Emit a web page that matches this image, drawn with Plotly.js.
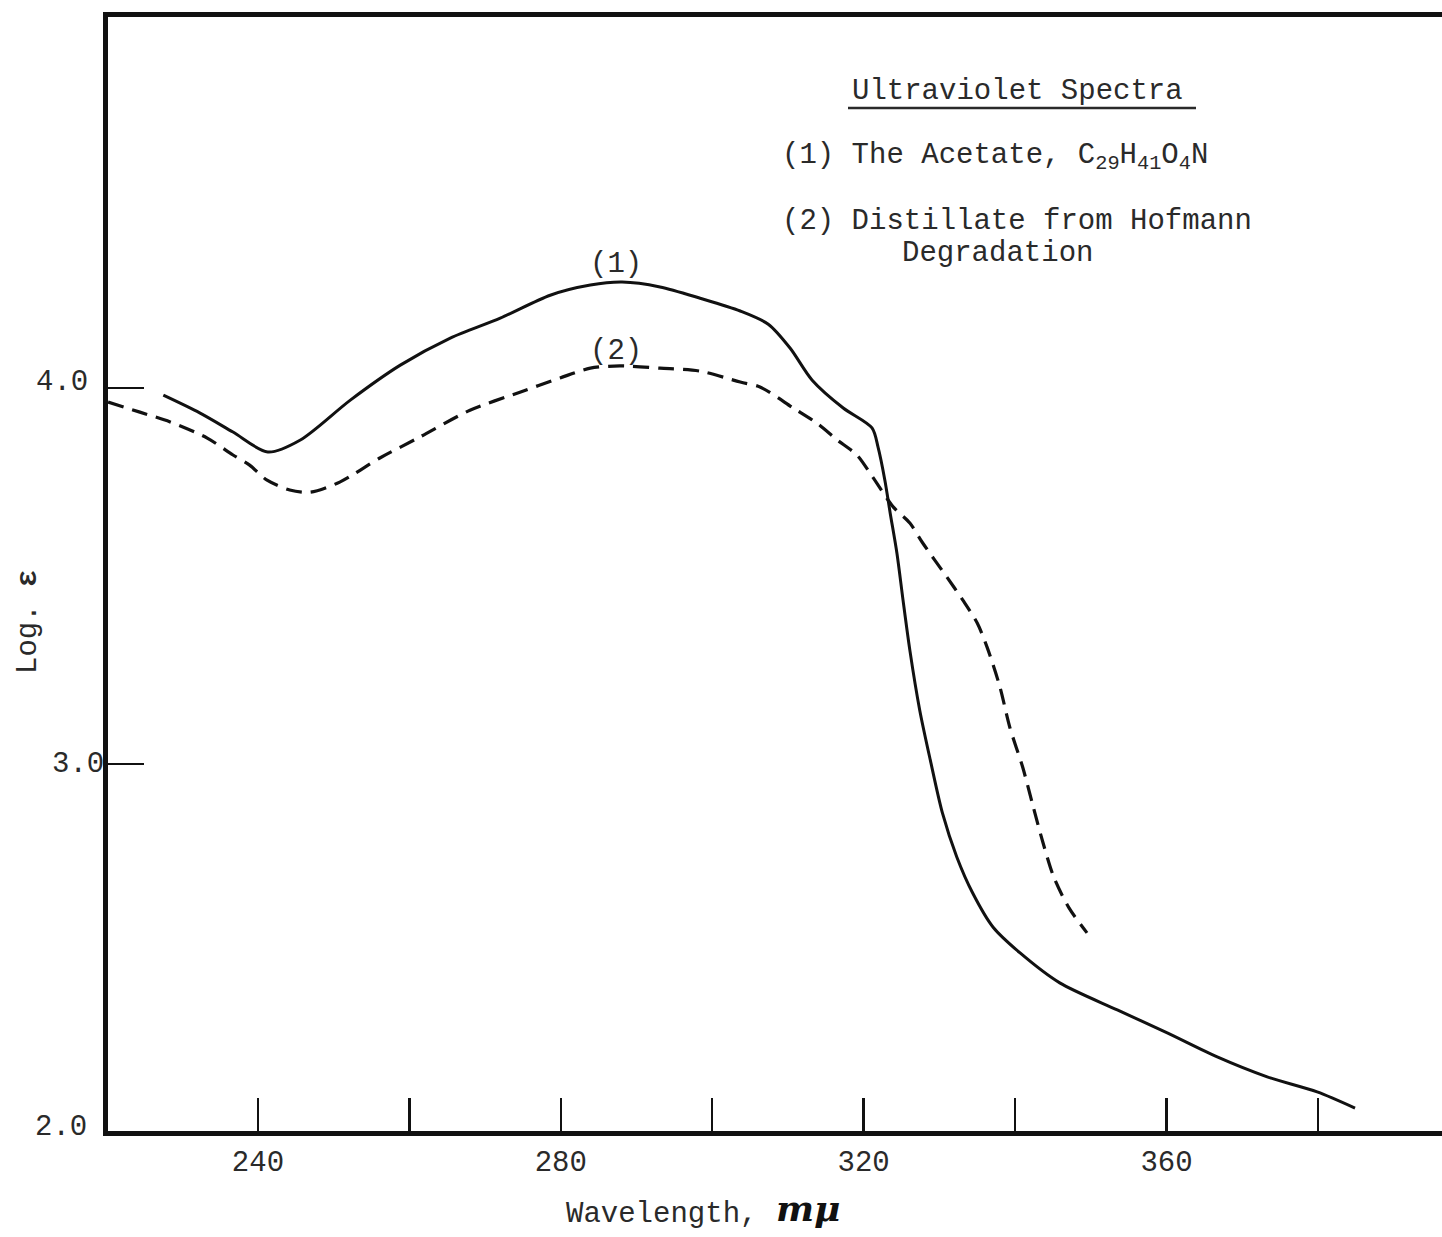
<!DOCTYPE html>
<html>
<head>
<meta charset="utf-8">
<script src="https://cdn.plot.ly/plotly-3.0.1.min.js"></script>
<style>
  html, body { margin: 0; padding: 0; background: #ffffff; overflow: hidden; }
  #chart { width: 1460px; height: 1237px; }
</style>
</head>
<body>
<div id="chart"></div>
<script>
// ---- Data ----
const wavelengthAcetate = [227.5, 232.3, 236.7, 241.3, 245.6, 252.2, 258.8, 265.4, 272.0, 278.6, 283.9, 288.1, 293.1, 298.4, 303.7, 307.4, 310.3, 313.2, 317.3, 321.1, 321.9, 322.8, 323.5, 324.4, 325.2, 326.1, 327.4, 328.8, 330.4, 332.3, 334.4, 337.1, 340.7, 345.9, 353.5, 360.1, 366.7, 373.3, 379.9, 384.9];
const logEpsAcetate = [3.981, 3.934, 3.883, 3.830, 3.862, 3.968, 4.061, 4.133, 4.186, 4.247, 4.274, 4.282, 4.269, 4.239, 4.205, 4.170, 4.106, 4.021, 3.947, 3.894, 3.843, 3.755, 3.668, 3.560, 3.436, 3.303, 3.144, 3.011, 2.870, 2.753, 2.657, 2.566, 2.497, 2.418, 2.346, 2.285, 2.221, 2.168, 2.128, 2.085];

const wavelengthDistillate = [220.2, 224.4, 228.4, 233.3, 236.7, 238.9, 241.2, 244.2, 246.9, 250.8, 256.1, 261.4, 268.0, 274.6, 279.9, 283.9, 287.8, 293.1, 298.4, 303.7, 306.3, 310.7, 313.8, 316.5, 319.1, 321.2, 323.9, 326.1, 327.8, 331.0, 333.1, 335.0, 336.3, 338.0, 339.3, 341.0, 342.4, 343.7, 345.1, 347.1, 349.5];
const logEpsDistillate = [3.963, 3.936, 3.910, 3.867, 3.822, 3.795, 3.755, 3.729, 3.723, 3.750, 3.814, 3.870, 3.941, 3.989, 4.027, 4.053, 4.059, 4.053, 4.045, 4.016, 4.003, 3.947, 3.907, 3.862, 3.822, 3.763, 3.684, 3.641, 3.588, 3.497, 3.436, 3.375, 3.311, 3.205, 3.098, 2.992, 2.886, 2.790, 2.700, 2.618, 2.551];

const xTickVals = [240, 260, 280, 300, 320, 340, 360, 380];
const xTickText = ['240', '', '280', '', '320', '', '360', ''];
const yTickMarkVals = [3.0, 4.0];
const yLabelVals = [2.0, 3.0, 4.0];
const yLabelText = ['2.0', '3.0', '4.0'];

const chartTitle = 'Ultraviolet Spectra';
const legendLine1 = '(1) The Acetate, C<sub>29</sub>H<sub>41</sub>O<sub>4</sub>N';
const legendLine2 = '(2) Distillate from Hofmann';
const legendLine3 = 'Degradation';
const curveLabel1 = '(1)';
const curveLabel2 = '(2)';
const xTitleText = 'Wavelength,';
const xTitleUnit = 'mμ';
const yTitleText = 'Log. <b>ε</b>';

// ---- Layout helpers (pixel -> paper) ----
const PL = 108, PR = 1452, PT = 17, PB = 1131;
const X_RANGE = [220.19, 397.71];
const Y_RANGE = [2.024, 4.987];
function px(X) { return (X - PL) / (PR - PL); }
function py(Y) { return (PB - Y) / (PB - PT); }
function yValToPaper(v) { return (v - Y_RANGE[0]) / (Y_RANGE[1] - Y_RANGE[0]); }

const FONT = 'Liberation Mono, Courier New, monospace';
const TXT = '#2a2a2a';

const traces = [
  {
    x: wavelengthAcetate, y: logEpsAcetate, type: 'scatter', mode: 'lines',
    line: { color: '#111', width: 3, shape: 'spline', smoothing: 0.8 },
    hoverinfo: 'skip', showlegend: false
  },
  {
    x: wavelengthDistillate, y: logEpsDistillate, type: 'scatter', mode: 'lines',
    line: { color: '#111', width: 3.2, dash: '16px,9px', shape: 'spline', smoothing: 0.8 },
    hoverinfo: 'skip', showlegend: false
  }
];

const yLabelShift = { '2.0': [-19, 13], '3.0': [-2, 0], '4.0': [-18, 6] };

const annotations = [];
yLabelVals.forEach((v, i) => {
  const t = yLabelText[i];
  annotations.push({
    x: 0, xref: 'paper', y: yValToPaper(v), yref: 'paper', text: t, showarrow: false,
    xanchor: 'right', yanchor: 'middle',
    xshift: yLabelShift[t][0], yshift: yLabelShift[t][1],
    font: { family: FONT, size: 29, color: TXT }
  });
});

function textAnn(text, X, Y, opts) {
  return Object.assign({
    x: px(X), y: py(Y), xref: 'paper', yref: 'paper', text: text,
    showarrow: false, xanchor: 'left', yanchor: 'middle',
    font: { family: FONT, size: 29, color: TXT }
  }, opts || {});
}

annotations.push(textAnn(chartTitle, 850, 92));
annotations.push(textAnn(legendLine1, 780, 157));
annotations.push(textAnn(legendLine2, 780, 222));
annotations.push(textAnn(legendLine3, 900, 253));
annotations.push(textAnn(curveLabel1, 588, 265));
annotations.push(textAnn(curveLabel2, 588, 352));
annotations.push(textAnn(xTitleText, 564, 1214));
annotations.push(textAnn('<b><i>' + xTitleUnit + '</i></b>', 774, 1208,
  { font: { family: 'DejaVu Serif, serif', size: 36, color: '#111' } }));
annotations.push({
  x: px(28), xref: 'paper', y: py(622), yref: 'paper', text: yTitleText,
  showarrow: false, textangle: -90, xanchor: 'center', yanchor: 'middle',
  font: { family: FONT, size: 29, color: TXT }
});

const layout = {
  width: 1460, height: 1237,
  margin: { l: PL, r: 1460 - PR, t: PT, b: 1237 - PB },
  paper_bgcolor: '#ffffff', plot_bgcolor: '#ffffff',
  showlegend: false,
  xaxis: {
    range: X_RANGE,
    showline: true, linewidth: 5, linecolor: '#111', mirror: true,
    ticks: 'inside', ticklen: 33, tickwidth: 2.5, tickcolor: '#111',
    tickmode: 'array', tickvals: xTickVals, ticktext: xTickText,
    tickfont: { family: FONT, size: 29, color: TXT },
    showgrid: false, zeroline: false, fixedrange: true
  },
  yaxis: {
    range: Y_RANGE,
    showline: true, linewidth: 5, linecolor: '#111', mirror: true,
    ticks: 'inside', ticklen: 36, tickwidth: 2.5, tickcolor: '#111',
    tickmode: 'array', tickvals: yTickMarkVals, showticklabels: false,
    showgrid: false, zeroline: false, fixedrange: true
  },
  annotations: annotations,
  shapes: [
    { type: 'line', xref: 'paper', yref: 'paper', x0: px(848), x1: px(1196), y0: py(108), y1: py(108),
      line: { color: TXT, width: 2.5 } }
  ]
};

Plotly.newPlot('chart', traces, layout, { staticPlot: true, displayModeBar: false });
</script>
</body>
</html>
